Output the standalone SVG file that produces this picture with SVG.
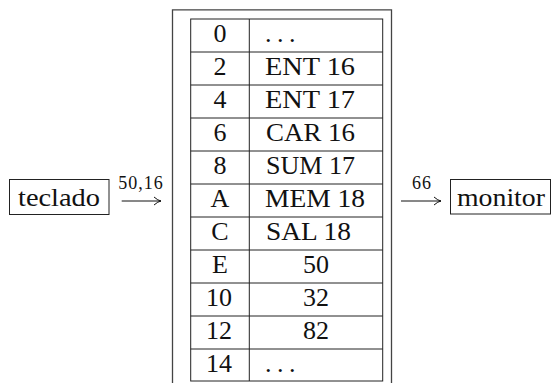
<svg xmlns="http://www.w3.org/2000/svg" width="553" height="383" viewBox="0 0 553 383">
  <style>
    text { font-family: "Liberation Serif", "DejaVu Serif", serif; fill: #111; }
    .t { font-size: 26px; }
    .c { text-anchor: middle; }
    .lbl { font-size: 18px; letter-spacing: 1px; }
    .dots { letter-spacing: 5.5px; }
    .box { fill: none; stroke: #222; stroke-width: 1; }
    .outer { fill: none; stroke: #444; stroke-width: 1.3; }
    .grid { stroke: #222; stroke-width: 1; fill: none; }
    .arr { stroke: #111; stroke-width: 1; fill: none; marker-end: url(#head); }
  </style>
  <defs>
    <marker id="head" markerUnits="userSpaceOnUse" markerWidth="12" markerHeight="12" refX="10" refY="6" orient="auto">
      <path d="M3,2 Q7,5.5 10,6 Q7,6.5 3,10" fill="none" stroke="#111" stroke-width="1"/>
    </marker>
  </defs>

  <g id="teclado">
    <rect class="box" x="9.5" y="179.5" width="99.5" height="35"/>
    <text class="t" x="18" y="206" textLength="82" lengthAdjust="spacingAndGlyphs">teclado</text>
  </g>

  <g id="memoria">
    <path class="outer" d="M172.5,383 V9.8 H391.5 V383"/>
    <rect class="grid" x="190.7" y="19" width="192" height="362"/>
    <line class="grid" x1="249.3" y1="19" x2="249.3" y2="381"/>
    <path class="grid" d="M190.7,52H382.7M190.7,85H382.7M190.7,118H382.7M190.7,151H382.7M190.7,184H382.7M190.7,217H382.7M190.7,250H382.7M190.7,283H382.7M190.7,316H382.7M190.7,349H382.7"/>
    <g class="t">
      <text class="c" x="220" y="42">0</text>
      <text class="c" x="220" y="75">2</text>
      <text class="c" x="220" y="108">4</text>
      <text class="c" x="220" y="141">6</text>
      <text class="c" x="220" y="174">8</text>
      <text class="c" x="220" y="207">A</text>
      <text class="c" x="220" y="240">C</text>
      <text class="c" x="220" y="273">E</text>
      <text class="c" x="219" y="306">10</text>
      <text class="c" x="219" y="339">12</text>
      <text class="c" x="219" y="372">14</text>
      <text class="dots" x="265" y="42">...</text>
      <text x="265" y="75" textLength="90" lengthAdjust="spacingAndGlyphs">ENT 16</text>
      <text x="265" y="108" textLength="90" lengthAdjust="spacingAndGlyphs">ENT 17</text>
      <text x="266" y="141" textLength="89" lengthAdjust="spacingAndGlyphs">CAR 16</text>
      <text x="266" y="174" textLength="89" lengthAdjust="spacingAndGlyphs">SUM 17</text>
      <text x="265" y="207" textLength="100" lengthAdjust="spacingAndGlyphs">MEM 18</text>
      <text x="266" y="240" textLength="85" lengthAdjust="spacingAndGlyphs">SAL 18</text>
      <text class="c" x="316" y="273">50</text>
      <text class="c" x="316" y="306">32</text>
      <text class="c" x="316" y="339">82</text>
      <text class="dots" x="265" y="372">...</text>
    </g>
  </g>

  <g id="monitor">
    <rect class="box" x="450.5" y="179.5" width="100" height="34.5"/>
    <text class="t" x="457" y="206" textLength="88" lengthAdjust="spacingAndGlyphs">monitor</text>
  </g>

  <g id="connectors">
    <line class="arr" x1="121.7" y1="201" x2="161" y2="201"/>
    <text class="lbl c" x="141" y="189">50,16</text>
    <line class="arr" x1="401" y1="201" x2="441" y2="201"/>
    <text class="lbl c" x="422" y="189">66</text>
  </g>
</svg>
